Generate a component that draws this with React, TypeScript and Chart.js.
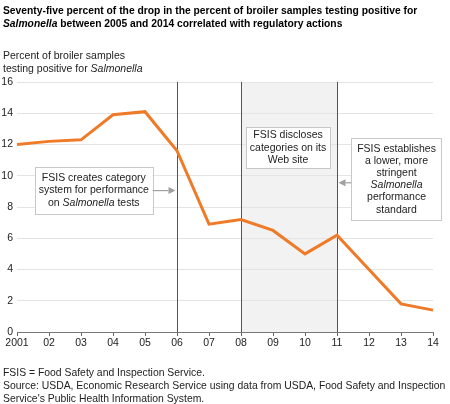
import React, { useEffect, useRef } from "react";
import { Chart, registerables } from "chart.js";

Chart.register(...registerables);

const years = ["2001", "02", "03", "04", "05", "06", "07", "08", "09", "10", "11", "12", "13", "14"];
const salmonellaPct = [12.0, 12.2, 12.3, 13.9, 14.1, 11.6, 6.9, 7.2, 6.5, 5.0, 6.2, 4.0, 1.8, 1.4];
const yTicks = [0, 2, 4, 6, 8, 10, 12, 14, 16];
const eventYears = ["06", "08", "11"];
const shadeRange = ["08", "11"];

const titleLines = [
  [{ t: "Seventy-five percent of the drop in the percent of broiler samples testing positive for" }],
  [{ t: "Salmonella", i: true }, { t: " between 2005 and 2014 correlated with regulatory actions" }],
];
const yTitleLines = [
  [{ t: "Percent of broiler samples" }],
  [{ t: "testing positive for " }, { t: "Salmonella", i: true }],
];
const footerLines = [
  "FSIS = Food Safety and Inspection Service.",
  "Source: USDA, Economic Research Service using data from USDA, Food Safety and Inspection",
  "Service's Public Health Information System.",
];

type Seg = { t: string; i?: boolean };

const noteLeft: Seg[][] = [
  [{ t: "FSIS creates category" }],
  [{ t: "system for performance" }],
  [{ t: "on " }, { t: "Salmonella", i: true }, { t: " tests" }],
];
const noteMid: Seg[][] = [
  [{ t: "FSIS discloses" }],
  [{ t: "categories on its" }],
  [{ t: "Web site" }],
];
const noteRight: Seg[][] = [
  [{ t: "FSIS establishes" }],
  [{ t: "a lower, more" }],
  [{ t: "stringent" }],
  [{ t: "Salmonella", i: true }],
  [{ t: "performance" }],
  [{ t: "standard" }],
];

const FONT = '"Liberation Sans", Arial, Helvetica, sans-serif';
const FS = 10.5;

function drawSegLine(ctx: CanvasRenderingContext2D, segs: Seg[], cx: number, cy: number) {
  const fontFor = (s: Seg) => `${s.i ? "italic " : ""}${FS}px ${FONT}`;
  let total = 0;
  const widths = segs.map((s) => {
    ctx.font = fontFor(s);
    const w = ctx.measureText(s.t).width;
    total += w;
    return w;
  });
  let x = cx - total / 2;
  ctx.textAlign = "left";
  ctx.textBaseline = "middle";
  segs.forEach((s, k) => {
    ctx.font = fontFor(s);
    ctx.fillText(s.t, x, cy);
    x += widths[k];
  });
}

function drawNote(ctx: CanvasRenderingContext2D, lines: Seg[][], x0: number, y0: number, x1: number, y1: number, lh: number) {
  ctx.save();
  ctx.fillStyle = "#ffffff";
  ctx.fillRect(x0, y0, x1 - x0, y1 - y0);
  ctx.strokeStyle = "#c8c8c8";
  ctx.lineWidth = 1;
  ctx.strokeRect(Math.round(x0) + 0.5, Math.round(y0) + 0.5, Math.round(x1 - x0), Math.round(y1 - y0));
  ctx.fillStyle = "#222";
  const cx = (x0 + x1) / 2;
  const cy = (y0 + y1) / 2;
  const start = cy - ((lines.length - 1) * lh) / 2;
  lines.forEach((l, k) => drawSegLine(ctx, l, cx, start + k * lh));
  ctx.restore();
}

function drawArrow(ctx: CanvasRenderingContext2D, xFrom: number, xTo: number, y: number) {
  ctx.save();
  ctx.strokeStyle = "#a0a0a0";
  ctx.fillStyle = "#a0a0a0";
  ctx.lineWidth = 1.2;
  const dir = xTo > xFrom ? 1 : -1;
  const head = 7;
  ctx.beginPath();
  ctx.moveTo(xFrom, y);
  ctx.lineTo(xTo - dir * head, y);
  ctx.stroke();
  ctx.beginPath();
  ctx.moveTo(xTo, y);
  ctx.lineTo(xTo - dir * head, y - 3.5);
  ctx.lineTo(xTo - dir * head, y + 3.5);
  ctx.closePath();
  ctx.fill();
  ctx.restore();
}

const overlayPlugin = {
  id: "overlay",
  beforeDraw(chart: any) {
    const { ctx, chartArea, scales } = chart;
    const x = scales.x;
    const xa = x.getPixelForValue(years.indexOf(shadeRange[0]));
    const xb = x.getPixelForValue(years.indexOf(shadeRange[1]));
    ctx.save();
    ctx.fillStyle = "#f2f2f2";
    ctx.fillRect(xa, chartArea.top, xb - xa, chartArea.bottom - chartArea.top);
    ctx.restore();
  },
  beforeDatasetsDraw(chart: any) {
    const { ctx, chartArea, scales } = chart;
    const x = scales.x;
    ctx.save();
    ctx.strokeStyle = "#555555";
    ctx.lineWidth = 1;
    eventYears.forEach((yr) => {
      const px = Math.round(x.getPixelForValue(years.indexOf(yr))) + 0.5;
      ctx.beginPath();
      ctx.moveTo(px, chartArea.top);
      ctx.lineTo(px, chartArea.bottom);
      ctx.stroke();
    });
    ctx.restore();
  },
  afterDraw(chart: any) {
    const { ctx, scales } = chart;
    const x = scales.x;
    const y = scales.y;
    const px = (v: number) => x.getPixelForValue(v);
    const py = (v: number) => y.getPixelForValue(v);
    const lh = 12.2;
    drawNote(ctx, noteLeft, px(0.56), py(10.55), px(4.24), py(7.55), lh);
    drawArrow(ctx, px(4.24), px(5) - 1.5, py(9.05));
    drawNote(ctx, noteMid, px(7.16), py(13.1), px(9.78), py(10.5), lh);
    drawNote(ctx, noteRight, px(10.45), py(12.4), px(13.27), py(7.15), lh);
    drawArrow(ctx, px(10.45), px(10) + 1.5, py(9.55));
  },
};

function SegText({ segs }: { segs: Seg[] }) {
  return (
    <div>
      {segs.map((s, k) => (s.i ? <i key={k}>{s.t}</i> : <span key={k}>{s.t}</span>))}
    </div>
  );
}

export default function App() {
  const ref = useRef<HTMLCanvasElement>(null);
  useEffect(() => {
    if (!ref.current) return;
    const chart = new Chart(ref.current, {
      type: "line",
      data: {
        labels: years,
        datasets: [
          {
            data: salmonellaPct,
            borderColor: "#ef7a27",
            borderWidth: 3,
            pointRadius: 0,
            tension: 0,
            fill: false,
            borderJoinStyle: "miter",
          },
        ],
      },
      options: {
        animation: false,
        responsive: false,
        maintainAspectRatio: false,
        devicePixelRatio: 1,
        layout: { padding: { left: 0, right: 17, top: 82, bottom: 52 } },
        plugins: { legend: { display: false }, tooltip: { enabled: false }, title: { display: false } },
        scales: {
          x: {
            type: "category",
            offset: false,
            grid: { drawOnChartArea: false, drawTicks: true, tickLength: 4, color: "#666" },
            border: { display: true, color: "#777", width: 1 },
            ticks: {
              color: "#222",
              font: { family: FONT, size: FS },
              padding: 1,
              maxRotation: 0,
              autoSkip: false,
            },
            afterFit: (s: any) => {
              s.height = 20;
            },
          },
          y: {
            min: 0,
            max: 16,
            afterBuildTicks: (s: any) => {
              s.ticks = yTicks.map((v) => ({ value: v }));
            },
            grid: { drawTicks: false, color: "#e4e4e4", lineWidth: 1 },
            border: { display: false },
            ticks: {
              color: "#222",
              font: { family: FONT, size: FS },
              padding: 4,
            },
            afterFit: (s: any) => {
              s.width = 17;
            },
          },
        },
      },
      plugins: [overlayPlugin],
    } as any);
    return () => chart.destroy();
  }, []);

  const textStyle: React.CSSProperties = {
    position: "absolute",
    left: 3,
    fontFamily: FONT,
    fontSize: FS,
    lineHeight: "13px",
    color: "#222",
    whiteSpace: "nowrap",
  };

  return (
    <div style={{ position: "absolute", left: 0, top: 0, width: 450, height: 404, background: "#fff", overflow: "hidden" }}>
      <canvas ref={ref} width={450} height={404} style={{ position: "absolute", left: 0, top: 0, width: 450, height: 404 }} />
      <div style={{ ...textStyle, top: 3.5, fontWeight: "bold", fontSize: 10.3, color: "#000" }}>
        {titleLines.map((l, k) => (
          <SegText key={k} segs={l} />
        ))}
      </div>
      <div style={{ ...textStyle, top: 48.5 }}>
        {yTitleLines.map((l, k) => (
          <SegText key={k} segs={l} />
        ))}
      </div>
      <div style={{ ...textStyle, top: 365.5, fontSize: 10.4 }}>
        {footerLines.map((l, k) => (
          <div key={k}>{l}</div>
        ))}
      </div>
    </div>
  );
}
